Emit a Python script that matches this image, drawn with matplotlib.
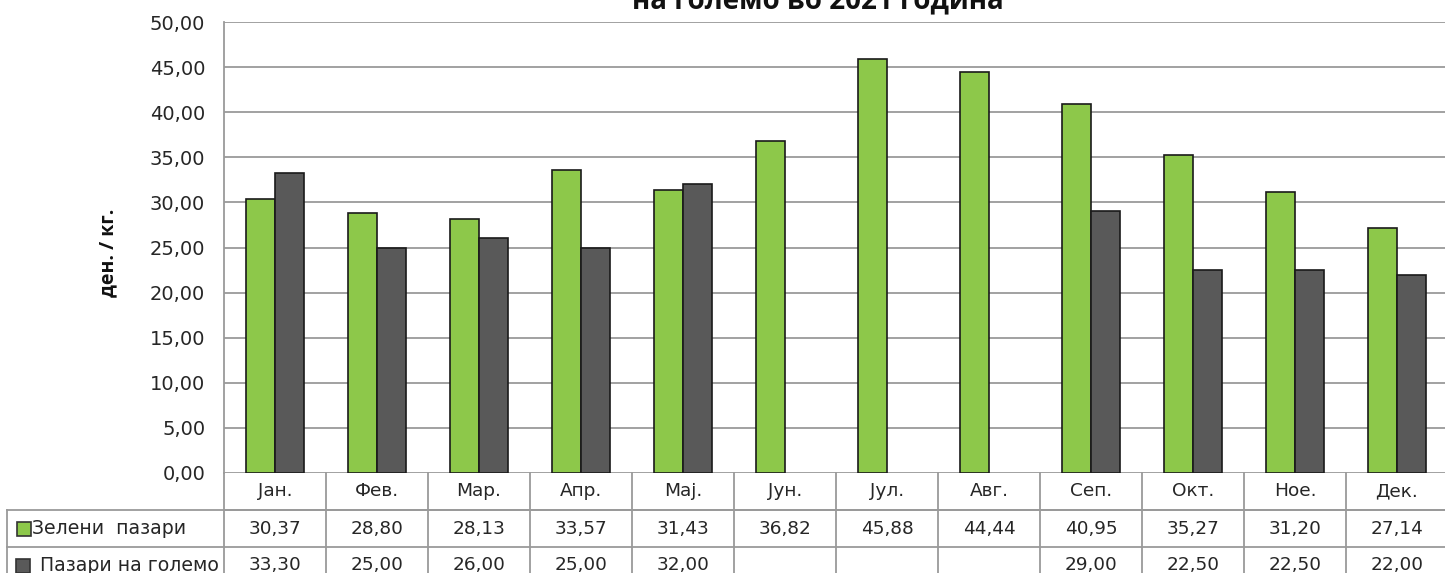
import matplotlib
matplotlib.use("Agg")
import matplotlib.pyplot as plt
import numpy as np

months = ["Јан.", "Фев.", "Мар.", "Апр.", "Мај.", "Јун.", "Јул.", "Авг.", "Сеп.", "Окт.", "Ное.", "Дек."]
green_markets = [30.37, 28.80, 28.13, 33.57, 31.43, 36.82, 45.88, 44.44, 40.95, 35.27, 31.20, 27.14]
wholesale = [33.30, 25.00, 26.00, 25.00, 32.00, None, None, None, 29.00, 22.50, 22.50, 22.00]
series_names = ["Зелени  пазари", "Пазари на големо"]
yticks = np.arange(0, 55, 5)

GREEN = "#8DC84A"
GREY = "#595959"
LINE = "#9a9a9a"
TXT = "#262626"

W, H = 1445, 573
fig = plt.figure(figsize=(W / 100, H / 100), dpi=100)
plt.rcParams['font.family'] = ['DejaVu Sans']

def fx(px):
    return px / W

def fy(py):
    return 1 - py / H

ax_left, ax_right = 224, 1448
ax_top, ax_bot = 22, 473
ax = fig.add_axes([fx(ax_left), fy(ax_bot), fx(ax_right - ax_left), (ax_bot - ax_top) / H])

n = len(months)
x = np.arange(n)
bw = 0.2857
g_vals = np.array(green_markets, dtype=float)
w_vals = np.array([np.nan if v is None else v for v in wholesale], dtype=float)
ax.bar(x - bw / 2, g_vals, bw, color=GREEN, edgecolor="#1a1a1a", linewidth=1.2, zorder=3)
ax.bar(x + bw / 2, w_vals, bw, color=GREY, edgecolor="#1a1a1a", linewidth=1.2, zorder=3)

ax.set_xlim(-0.5, n - 0.5)
ax.set_ylim(0, 50)
ax.set_yticks(yticks)
ax.set_yticklabels([f"{v:.2f}".replace(".", ",") for v in yticks], fontsize=14, color=TXT)
ax.tick_params(axis="y", length=0, pad=13.5)
ax.set_xticks([])
ax.grid(axis="y", color=LINE, linewidth=1.3, zorder=0)
for s in ["top", "right", "bottom"]:
    ax.spines[s].set_visible(False)
ax.spines["left"].set_color(LINE)
ax.spines["left"].set_linewidth(1.3)

# y axis label
fig.text(fx(108), fy(253), "ден. / кг.", rotation=90, ha="center", va="center",
         fontsize=14, fontweight="bold", family=["Open Sans", "DejaVu Sans"], color="#111111")

# title (partially cut at top, as in the source)
fig.text(fx(818), fy(8), "на големо во 2021 година", ha="center", va="baseline",
         fontsize=20, fontweight="bold", family=["Open Sans", "DejaVu Sans"], color="#111111")

# data table
row_h = 37
tb_top = ax_bot
px_per_cat = (ax_right - ax_left) / n
tax = fig.add_axes([0, fy(tb_top + 3 * row_h), 1, 3 * row_h / H])
tax.set_xlim(-0.5 - ax_left / px_per_cat, -0.5 + (W - ax_left) / px_per_cat)
tax.set_ylim(3, 0)
tax.axis("off")
label_left = -0.5 - (ax_left - 7) / px_per_cat

lkw = dict(color=LINE, linewidth=1.3, clip_on=False)
tax.plot([-0.5, n - 0.5], [1, 1], **lkw)
tax.plot([label_left, n - 0.5], [1, 1], **lkw)
tax.plot([label_left, n - 0.5], [2, 2], **lkw)
tax.plot([label_left, n - 0.5], [3, 3], **lkw)
for k in range(n + 1):
    tax.plot([k - 0.5, k - 0.5], [0, 3], **lkw)
tax.plot([label_left, label_left], [1, 3], **lkw)

FS = 13.3
for i, m in enumerate(months):
    tax.text(i, 0.5, m, ha="center", va="center", fontsize=FS, color=TXT)
    tax.text(i, 1.5, f"{green_markets[i]:.2f}".replace(".", ","), ha="center", va="center", fontsize=FS, color=TXT)
    if wholesale[i] is not None:
        tax.text(i, 2.5, f"{wholesale[i]:.2f}".replace(".", ","), ha="center", va="center", fontsize=FS, color=TXT)

# legend keys + labels
fig.patches.append(plt.Rectangle((fx(17), fy(tb_top + 1.5 * row_h + 7)), fx(14), 14 / H,
                                 transform=fig.transFigure, facecolor=GREEN, edgecolor="#333333", linewidth=1.2))
fig.text(fx(32), fy(tb_top + 1.5 * row_h), series_names[0], ha="left", va="center", fontsize=13.6, color=TXT)
fig.patches.append(plt.Rectangle((fx(16), fy(tb_top + 2.5 * row_h + 7)), fx(14), 14 / H,
                                 transform=fig.transFigure, facecolor=GREY, edgecolor="#333333", linewidth=1.2))
fig.text(fx(40), fy(tb_top + 2.5 * row_h), series_names[1], ha="left", va="center", fontsize=13.6, color=TXT)

fig.savefig("out.png", dpi=100)
